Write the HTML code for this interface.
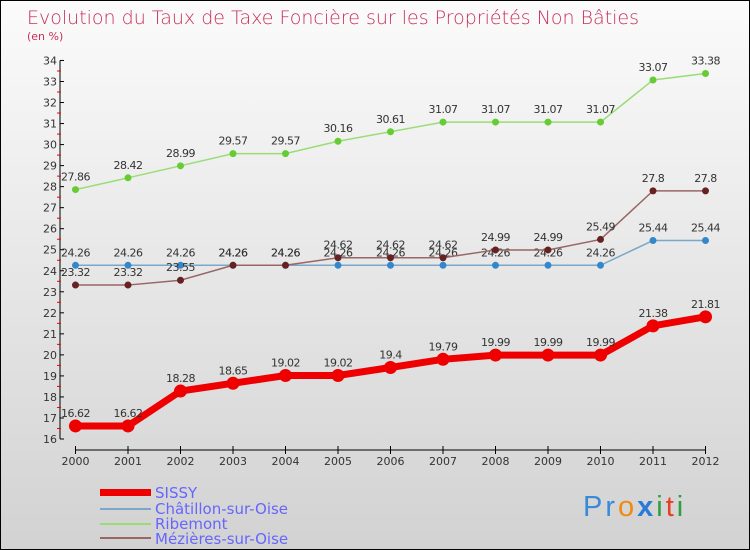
<!DOCTYPE html>
<html><head><meta charset="utf-8"><style>
body{margin:0}
#c{width:750px;height:550px;position:relative;overflow:hidden;background:linear-gradient(#fbfbfb,#d2d2d2);box-sizing:border-box;border:1px solid #000;font-family:"DejaVu Sans","Liberation Sans",sans-serif}
</style></head><body>
<div id="c">
<svg id="s" width="750" height="550" style="position:absolute;left:-1px;top:-1px">
<text x="27" y="24" font-size="19" fill="#c8305a" style="font-weight:200">Evolution du Taux de Taxe Foncière sur les Propriétés Non Bâties</text>
<text x="27" y="40" font-size="11" fill="#c8305a">(en %)</text>
<g id="ax"></g><g id="ser"></g>
<g font-size="15" fill="#6666ff">
<rect x="100" y="489" width="51" height="7" fill="#e00"/>
<text x="155" y="498">SISSY</text>
<rect x="100" y="508" width="51" height="2" fill="#79a8c8"/>
<text x="155" y="514">Châtillon-sur-Oise</text>
<rect x="100" y="523" width="51" height="2" fill="#99dd77"/>
<text x="155" y="529">Ribemont</text>
<rect x="100" y="537" width="51" height="2" fill="#996666"/>
<text x="155" y="544">Mézières-sur-Oise</text>
</g>
<text x="583" y="516" font-size="29" letter-spacing="3" font-family="Liberation Sans,sans-serif"><tspan fill="#3a8ad8">Pr</tspan><tspan fill="#f08a10">o</tspan><tspan fill="#2a7ad8" font-weight="bold">x</tspan><tspan fill="#2aa040">i</tspan><tspan fill="#e84020">t</tspan><tspan fill="#2aa040">i</tspan></text>
</svg>
</div>
<script>
const years=[2000,2001,2002,2003,2004,2005,2006,2007,2008,2009,2010,2011,2012];
const yTicks=[16,17,18,19,20,21,22,23,24,25,26,27,28,29,30,31,32,33,34];
const sissy=[16.62,16.62,18.28,18.65,19.02,19.02,19.4,19.79,19.99,19.99,19.99,21.38,21.81];
const chatillon=[24.26,24.26,24.26,24.26,24.26,24.26,24.26,24.26,24.26,24.26,24.26,25.44,25.44];
const ribemont=[27.86,28.42,28.99,29.57,29.57,30.16,30.61,31.07,31.07,31.07,31.07,33.07,33.38];
const mezieres=[23.32,23.32,23.55,24.26,24.26,24.62,24.62,24.62,24.99,24.99,25.49,27.8,27.8];
const NS="http://www.w3.org/2000/svg";
const X=i=>75.5+i*52.5, Y=v=>439-(v-16)*21.03;
function mk(t,a,p){const e=document.createElementNS(NS,t);for(const k in a)e.setAttribute(k,a[k]);p.appendChild(e);return e;}
const ax=document.getElementById('ax'), ser=document.getElementById('ser');
let l=mk('line',{x1:60,y1:Y(34),x2:60,y2:Y(16),stroke:'#000'},ax);


yTicks.forEach(v=>{
 mk('line',{x1:60,x2:64,y1:Y(v),y2:Y(v),stroke:'#000'},ax);
 if(v<34)mk('line',{x1:57,x2:61,y1:Y(v+0.5),y2:Y(v+0.5),stroke:'#e00'},ax);
 const t=mk('text',{x:57,y:Y(v)+4,'font-size':11,'text-anchor':'end',fill:'#333'},ax);
 t.textContent=v;
 
 
});
l=mk('line',{x1:75,y1:450,x2:705,y2:450,stroke:'#000'},ax);


years.forEach((y,i)=>{
 mk('line',{x1:X(i),x2:X(i),y1:446,y2:454,stroke:'#000'},ax);
 const t=mk('text',{x:X(i),y:465,'font-size':11,'text-anchor':'middle',fill:'#333'},ax);
 t.textContent=y;
 
 
});
function series(d,col,dot,w,r,name){
 const g=mk('g',{},ser);
 
 
 const p=mk('polyline',{points:d.map((v,i)=>X(i)+','+Y(v)).join(' '),fill:'none',stroke:col,'stroke-width':w},g);
 
 
 d.forEach((v,i)=>{
  const c=mk('circle',{cx:X(i),cy:Y(v),r:r,fill:dot},g);
  
  
  const t=mk('text',{x:X(i),y:Y(v)-9,'font-size':11,'text-anchor':'middle',fill:'#333','letter-spacing':'-0.5'},g);
  t.textContent=v;
  
  
 });
}
series(ribemont,'#99dd77','#66cc33',1.5,3.5,'ribemont');
series(chatillon,'#79a8c8','#3388cc',1.5,3.5,'chatillon');
series(mezieres,'#996666','#662222',1.5,3.5,'mezieres');
series(sissy,'#ee0000','#ee0000',7,6.5,'sissy');
</script>
</body></html>
